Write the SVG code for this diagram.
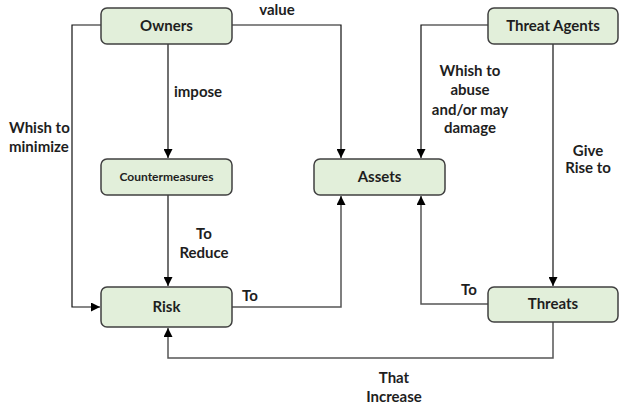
<svg xmlns="http://www.w3.org/2000/svg" width="619" height="405" viewBox="0 0 619 405">
  <style>
    .box { fill: #e2efda; stroke: #404040; stroke-width: 1.5; }
    .lbl { font-family: Lato, "Liberation Sans", sans-serif; font-weight: bold; font-size: 15px; fill: #1e1e1e; }
    .mid { text-anchor: middle; }
    .small { font-size: 12px; }
    .wire { fill: none; stroke: #111; stroke-width: 1.2; }
    .wire2 { fill: none; stroke: #555; stroke-width: 1.5; }
  </style>
  <defs>
    <marker id="arrow" viewBox="0 0 10 10" refX="10" refY="5" markerWidth="9" markerHeight="9" markerUnits="userSpaceOnUse" orient="auto">
      <path d="M0,0 L10,5 L0,10 Z" fill="#000"/>
    </marker>
  </defs>

  <!-- connectors -->
  <g id="connectors">
    <path class="wire" d="M101,25 H72 V307 H100" marker-end="url(#arrow)"/>
    <path class="wire" d="M168,44 V158" marker-end="url(#arrow)"/>
    <path class="wire" d="M232,25 H341 V158" marker-end="url(#arrow)"/>
    <path class="wire" d="M488,25 H421 V158" marker-end="url(#arrow)"/>
    <path class="wire" d="M553,44 V286" marker-end="url(#arrow)"/>
    <path class="wire" d="M168,195 V286" marker-end="url(#arrow)"/>
    <path class="wire2" d="M232,307 H341 V196" marker-end="url(#arrow)"/>
    <path class="wire2" d="M488,304 H421 V196" marker-end="url(#arrow)"/>
    <path class="wire2" d="M553,322 V358 H168 V328" marker-end="url(#arrow)"/>
  </g>

  <!-- nodes -->
  <g id="owners">
    <rect class="box" x="101" y="8" width="131" height="36" rx="6"/>
    <text class="lbl mid" x="166.5" y="31">Owners</text>
  </g>
  <g id="countermeasures">
    <rect class="box" x="101" y="159" width="131" height="36" rx="6"/>
    <text class="lbl mid small" x="166.5" y="181">Countermeasures</text>
  </g>
  <g id="assets">
    <rect class="box" x="314" y="159" width="131" height="36" rx="6"/>
    <text class="lbl mid" x="379.5" y="182">Assets</text>
  </g>
  <g id="threat-agents">
    <rect class="box" x="488" y="8" width="130" height="36" rx="6"/>
    <text class="lbl mid" x="553" y="31">Threat Agents</text>
  </g>
  <g id="risk">
    <rect class="box" x="101" y="287" width="131" height="40" rx="6"/>
    <text class="lbl mid" x="166.5" y="312">Risk</text>
  </g>
  <g id="threats">
    <rect class="box" x="488" y="287" width="130" height="35" rx="6"/>
    <text class="lbl mid" x="553" y="309">Threats</text>
  </g>

  <!-- connector labels -->
  <g id="labels">
    <text class="lbl mid" x="277" y="15">value</text>
    <text class="lbl" x="174" y="97">impose</text>
    <text class="lbl" x="9" y="133">Whish to</text>
    <text class="lbl" x="9" y="152">minimize</text>
    <text class="lbl mid" x="470" y="76">Whish to</text>
    <text class="lbl mid" x="470" y="95">abuse</text>
    <text class="lbl mid" x="470" y="115">and/or may</text>
    <text class="lbl mid" x="470" y="133">damage</text>
    <text class="lbl mid" x="588" y="156">Give</text>
    <text class="lbl mid" x="588" y="173">Rise to</text>
    <text class="lbl mid" x="204" y="239">To</text>
    <text class="lbl mid" x="204" y="258">Reduce</text>
    <text class="lbl mid" x="250" y="301">To</text>
    <text class="lbl mid" x="469" y="295">To</text>
    <text class="lbl mid" x="394" y="383">That</text>
    <text class="lbl mid" x="394" y="402">Increase</text>
  </g>
</svg>
